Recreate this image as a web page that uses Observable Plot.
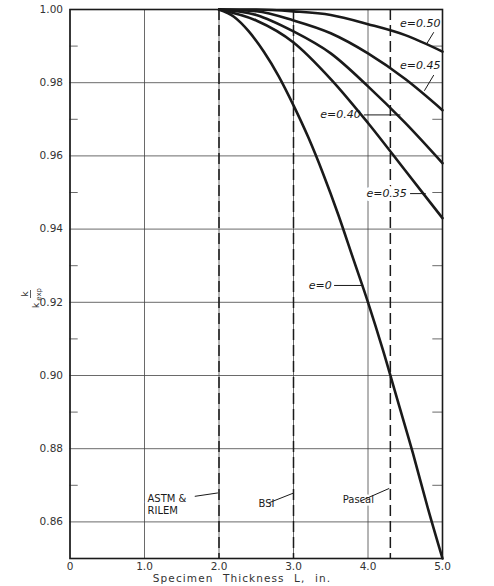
<!DOCTYPE html>
<html>
<head>
<meta charset="utf-8">
<script src="https://cdn.jsdelivr.net/npm/d3@7"></script>
<script src="https://cdn.jsdelivr.net/npm/@observablehq/plot@0.6"></script>
<style>
  html, body { margin: 0; padding: 0; background: #fff; }
  svg text { font-family: "DejaVu Sans", sans-serif; }
</style>
</head>
<body>
<div id="chart"></div>
<script>
// ---- data ----
const xTicks = [0, 1, 2, 3, 4, 5];
const yTicks = [0.86, 0.88, 0.90, 0.92, 0.94, 0.96, 0.98, 1.00];
const yMinor = [0.85, 0.87, 0.89, 0.91, 0.93, 0.95, 0.97, 0.99];

const xE0 = [2.0, 2.2, 2.4, 2.6, 2.8, 3.0, 3.2, 3.4, 3.6, 3.8, 4.0, 4.2, 4.4, 4.6, 4.8, 5.0];
const yE0 = [1.000, 0.998, 0.994, 0.9885, 0.9818, 0.9738, 0.965, 0.955, 0.944, 0.932, 0.920, 0.907, 0.893, 0.879, 0.864, 0.850];

const xE = [2.0, 2.5, 3.0, 3.5, 4.0, 4.5, 5.0];
const yE035 = [1.000, 0.997, 0.991, 0.981, 0.969, 0.956, 0.943];
const yE040 = [1.000, 0.9985, 0.994, 0.988, 0.979, 0.969, 0.958];
const yE045 = [1.000, 0.9995, 0.997, 0.9935, 0.988, 0.981, 0.9725];
const yE050 = [1.000, 1.000, 0.9995, 0.9985, 0.996, 0.993, 0.9885];

const standards = [2.0, 3.0, 4.3]; // ASTM & RILEM, BSI, Pascal

const curveLabels = ["e=0.50", "e=0.45", "e=0.40", "e=0.35", "e=0"];
const curveLabelX = [4.70, 4.70, 3.63, 4.25, 3.36];
const curveLabelY = [0.9962, 0.9847, 0.9712, 0.9497, 0.9246];

const stdLabels = ["ASTM &", "RILEM", "BSI", "Pascal"];
const stdLabelX = [1.04, 1.04, 2.53, 3.66];
const stdLabelY = [0.8664, 0.8630, 0.8650, 0.8661];

// arrows: start, end, bend
const arrowX1 = [4.88, 4.88, 3.95, 4.57, 3.55, 1.68, 2.68, 3.91];
const arrowY1 = [0.9937, 0.9820, 0.9712, 0.9497, 0.9246, 0.8670, 0.8653, 0.8658];
const arrowX2 = [4.79, 4.76, 4.43, 4.77, 3.93, 1.98, 2.99, 4.28];
const arrowY2 = [0.9907, 0.9779, 0.9712, 0.9497, 0.9246, 0.8679, 0.8678, 0.8691];
const arrowBend = [0, 0, 0, 0, 0, 0, 15, 10];

// ---- build tables ----
const series = [
  ...xE0.map((x, i) => ({x, y: yE0[i], e: "0"})),
  ...xE.map((x, i) => ({x, y: yE035[i], e: "0.35"})),
  ...xE.map((x, i) => ({x, y: yE040[i], e: "0.40"})),
  ...xE.map((x, i) => ({x, y: yE045[i], e: "0.45"})),
  ...xE.map((x, i) => ({x, y: yE050[i], e: "0.50"}))
];
const cLabels = curveLabels.map((t, i) => ({t, x: curveLabelX[i], y: curveLabelY[i]}));
const sLabels = stdLabels.map((t, i) => ({t, x: stdLabelX[i], y: stdLabelY[i]}));
const arrows = arrowX1.map((x1, i) => ({x1, y1: arrowY1[i], x2: arrowX2[i], y2: arrowY2[i], bend: arrowBend[i]}));

const ink = "#1a1a1a";
const cOpts = {x: "x", y: "y", text: "t", fontSize: 11, fontStyle: "italic", style: {letterSpacing: "1px"}};
const sOpts = {x: "x", y: "y", text: "t", fontSize: 10, textAnchor: "start"};

const chart = Plot.plot({
  width: 494,
  height: 586,
  marginLeft: 69.5,
  marginRight: 52,
  marginTop: 9,
  marginBottom: 28,
  style: {fontFamily: "DejaVu Sans, sans-serif", background: "#fff", color: ink},
  x: {domain: [0, 5]},
  y: {domain: [0.85, 1.0]},
  marks: [
    Plot.gridX(xTicks, {stroke: "#444", strokeOpacity: 1, strokeWidth: 0.8}),
    Plot.gridY(yTicks, {stroke: "#444", strokeOpacity: 1, strokeWidth: 0.8}),
    Plot.ruleY(yMinor, {x1: 0, x2: 0.11, stroke: "#444", strokeWidth: 0.8}),
    Plot.ruleY(yMinor, {x1: 4.87, x2: 5, stroke: "#444", strokeWidth: 0.8}),
    Plot.ruleX(standards, {stroke: ink, strokeWidth: 1.5, strokeDasharray: "11,5"}),
    // white halos behind labels (hide grid and dashed lines only)
    Plot.text(cLabels, {...cOpts, fill: "#fff", stroke: "#fff", strokeWidth: 8, strokeLinejoin: "round"}),
    Plot.text(sLabels, {...sOpts, fill: "#fff", stroke: "#fff", strokeWidth: 5, strokeLinejoin: "round"}),
    Plot.line(series, {x: "x", y: "y", z: "e", curve: "monotone-x", stroke: ink, strokeWidth: 2.6}),
    Plot.frame({stroke: ink, strokeWidth: 1.6}),
    Plot.axisX({ticks: xTicks, tickSize: 0, tickPadding: 4, label: null,
      tickFormat: d => d === 0 ? "0" : d.toFixed(1), fontSize: 10.5, fill: "#333",
      style: {letterSpacing: "1.2px"}}),
    Plot.axisY({ticks: yTicks, tickSize: 0, tickPadding: 7, label: null,
      tickFormat: d => d.toFixed(2), fontSize: 10.5, fill: "#333",
      style: {letterSpacing: "1.2px"}}),
    Plot.text(cLabels, {...cOpts, fill: ink}),
    Plot.text(sLabels, {...sOpts, fill: ink}),
    Plot.arrow(arrows, {x1: "x1", y1: "y1", x2: "x2", y2: "y2", bend: "bend", stroke: ink,
      strokeWidth: 1, headLength: 5})
  ]
});

document.getElementById("chart").appendChild(chart);

const svg = d3.select(chart);

// x-axis title
svg.append("text")
  .attr("x", 242).attr("y", 582)
  .attr("text-anchor", "middle")
  .attr("font-size", 10.5)
  .attr("fill", "#333")
  .style("letter-spacing", "1.1px")
  .style("word-spacing", "5px")
  .text("Specimen Thickness L, in.");

// y-axis title: k / k_exp (rotated fraction)
const g = svg.append("g").attr("transform", "translate(32,288) rotate(-90)");
g.append("text").attr("x", -6).attr("y", -4).attr("text-anchor", "middle")
  .attr("font-size", 9).attr("fill", "#333").text("k");
g.append("line").attr("x1", -10).attr("x2", -2).attr("y1", -1.5).attr("y2", -1.5)
  .attr("stroke", "#333").attr("stroke-width", 0.8);
const den = g.append("text").attr("x", -10).attr("y", 7).attr("font-size", 9).attr("fill", "#333");
den.append("tspan").text("k");
den.append("tspan").attr("dx", 2).attr("dy", 1.5).attr("font-size", 7).text("exp");
</script>
</body>
</html>
